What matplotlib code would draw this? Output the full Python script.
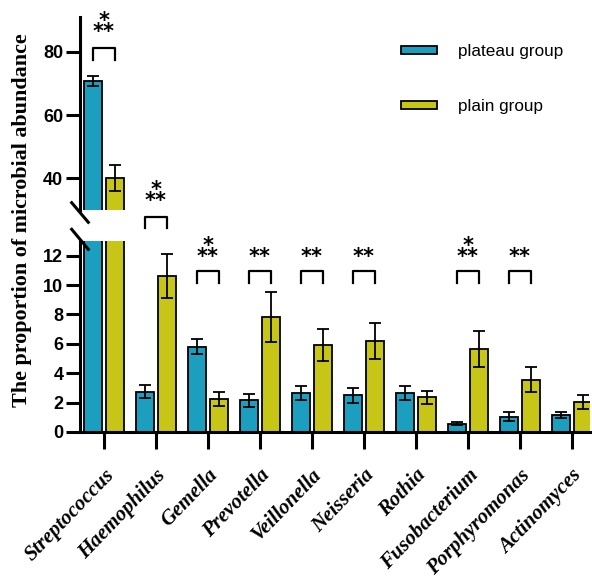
import matplotlib
matplotlib.use("Agg")
import matplotlib.pyplot as plt
from matplotlib.lines import Line2D
from matplotlib.patches import Patch
import numpy as np

genera = ["Streptococcus", "Haemophilus", "Gemella", "Prevotella", "Veillonella",
          "Neisseria", "Rothia", "Fusobacterium", "Porphyromonas", "Actinomyces"]
plateau = [70.8, 2.75, 5.8, 2.15, 2.65, 2.5, 2.63, 0.55, 1.03, 1.17]
plateau_err = [1.5, 0.45, 0.5, 0.45, 0.47, 0.5, 0.47, 0.1, 0.3, 0.2]
plain = [40.1, 10.6, 2.22, 7.85, 5.9, 6.2, 2.35, 5.65, 3.55, 2.03]
plain_err = [4.2, 1.5, 0.48, 1.7, 1.1, 1.2, 0.42, 1.25, 0.85, 0.48]
sig = ["***", "***", "***", "**", "**", "**", "", "***", "**", ""]
series_labels = ["plateau group", "plain group"]

blue = "#1c9fbf"
yellow = "#c7c516"

W, H = 592, 581
fig = plt.figure(figsize=(W / 100, H / 100), dpi=100)

def fx(px):
    return px / W

def fy(py):
    return 1 - py / H

left, right = fx(80), fx(590)
ax_top = fig.add_axes([left, fy(210), right - left, fy(17) - fy(210)])
ax_bot = fig.add_axes([left, fy(432), right - left, fy(241) - fy(432)])

x = np.arange(len(genera))
bw = 0.35
off = 0.21
for ax in (ax_top, ax_bot):
    ax.bar(x - off, plateau, bw, color=blue, edgecolor="black", linewidth=1.3, zorder=2)
    ax.bar(x + off, plain, bw, color=yellow, edgecolor="black", linewidth=1.3, zorder=2)
    ax.errorbar(x - off, plateau, yerr=plateau_err, fmt="none", ecolor="black",
                elinewidth=1.3, capsize=4, capthick=1.3, zorder=3)
    ax.errorbar(x + off, plain, yerr=plain_err, fmt="none", ecolor="black",
                elinewidth=1.3, capsize=4, capthick=1.3, zorder=3)
    ax.set_xlim(-0.46, 9.35)
    for s in ("top", "right"):
        ax.spines[s].set_visible(False)
    ax.spines["left"].set_linewidth(2.2)
    ax.tick_params(axis="y", length=10, width=2.2, labelsize=13, pad=2)

ax_top.set_ylim(30, 91)
ax_top.set_yticks([40, 60, 80])
ax_top.spines["bottom"].set_visible(False)
ax_top.set_xticks([])

ax_bot.set_ylim(0, 13)
ax_bot.set_yticks(range(0, 13, 2))
ax_bot.spines["bottom"].set_linewidth(2.2)
ax_bot.set_xticks(x)
ax_bot.set_xticklabels(genera, rotation=46, ha="right", rotation_mode="anchor",
                       family="Liberation Serif", fontweight="bold", style="italic",
                       fontsize=15)
ax_bot.tick_params(axis="x", length=12, width=2.2, pad=12)

for ax in (ax_top, ax_bot):
    for lab in ax.get_yticklabels():
        lab.set_fontweight("bold")
        lab.set_family("Liberation Sans")

# significance annotations
def annotate(ax, i, stars, top, leg, y2):
    xs = [i - off, i - off, i + off, i + off]
    ax.plot(xs, [leg, top, top, leg], color="black", lw=1.6, clip_on=False, zorder=4)
    txt = "*\n**" if len(stars) == 3 else "**"
    ax.text(i, y2, txt, ha="center", va="baseline", multialignment="center",
            fontsize=15, fontweight="bold", linespacing=0.42, clip_on=False)

for i, s in enumerate(sig):
    if not s:
        continue
    if i == 0:
        annotate(ax_top, i, s, 81.2, 77.4, 84.3)
    elif i == 1:
        annotate(ax_bot, i, s, 14.66, 13.9, 15.3)
    else:
        annotate(ax_bot, i, s, 10.95, 10.15, 11.5)

# axis break marks
for (x0, y0, x1, y1) in [(71.7, 202.7, 88.3, 222.3), (71.7, 229.3, 88.3, 249.3)]:
    fig.add_artist(Line2D([fx(x0), fx(x1)], [fy(y0), fy(y1)], color="black", lw=2.2))

# legend
handles = [Patch(facecolor=blue, edgecolor="black", linewidth=1.3),
           Patch(facecolor=yellow, edgecolor="black", linewidth=1.3)]
fig.legend(handles, series_labels, loc="upper left", bbox_to_anchor=(fx(401), fy(44)),
           frameon=False, handlelength=2.1, handleheight=0.36,
           handletextpad=1.25, labelspacing=2.35, borderpad=0, borderaxespad=0,
           prop={"family": "Liberation Sans", "size": 12.3})

fig.text(fx(22), fy(220), "The proportion of microbial abundance", rotation=90,
         ha="center", va="center", family="Liberation Serif", fontweight="bold",
         fontsize=15.8)

fig.savefig("out.png", dpi=100)
